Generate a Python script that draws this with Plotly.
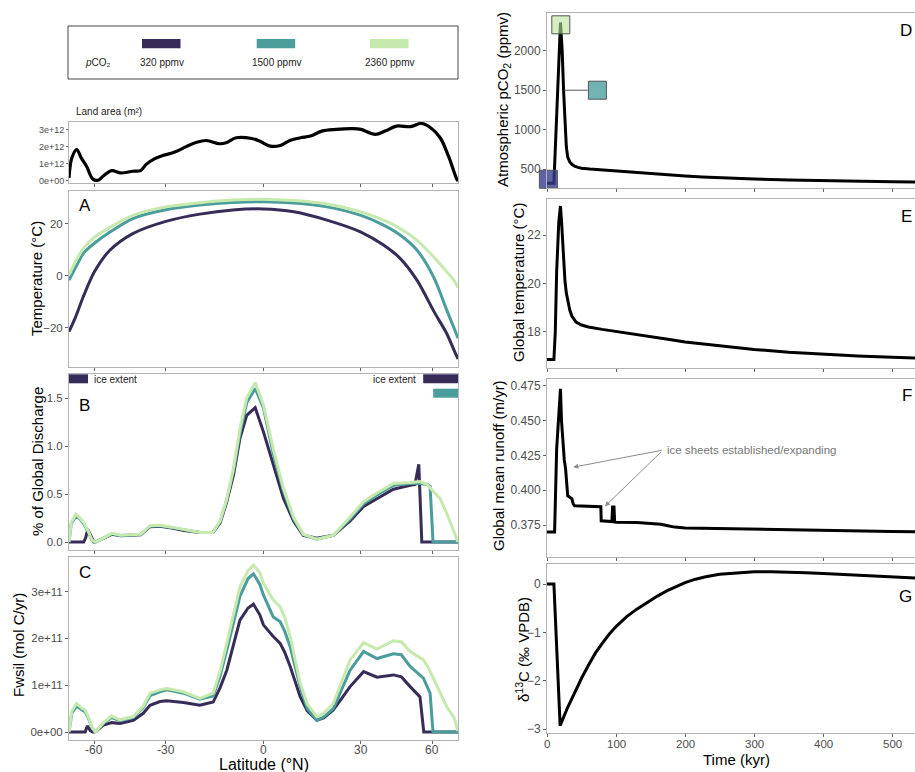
import numpy as np
import plotly.graph_objects as go

W, H = 915, 772

# ---------------- data ----------------
legend_labels = ["320 ppmv", "1500 ppmv", "2360 ppmv"]
series_colors = ["#372c57", "#4b9d9c", "#c6e9ae"]

land_lat = [-85, -79, -73, -69, -65, -61, -58, -55, -51, -47, -42, -39, -37, -34, -31, -27, -23, -20, -17,
            -13, -11, -8, -3.4, -1, 2, 5, 8, 11, 14, 17.4, 22, 27, 30, 35, 38.6, 43, 49, 54, 59, 65, 71.6, 83, 86]
land_area_e12 = [0.16, 1.33, 1.82, 1.33, 0.84, 0.1, 0.02, 0.29, 0.59, 0.45, 0.55, 0.59, 0.94, 1.27, 1.47, 1.67,
                 2.02, 2.25, 2.35, 2.16, 2.22, 2.51, 2.47, 2.31, 2.02, 2.06, 2.37, 2.51, 2.61, 2.9, 3.0, 3.04, 3.0,
                 2.71, 2.9, 3.19, 3.16, 3.35, 3.1, 2.51, 1.43, 0.06, 0.0]

temp_lat = [-85, -75, -67, -60, -52, -42, -30, -19, -9, 0, 9, 19, 30, 38, 44.5, 52, 61, 70, 78, 86]
temp_320 = [-21.5, -16.5, -7.6, 1.5, 9.7, 16.2, 20.9, 23.7, 25.3, 25.7, 24.6, 21.4, 16.8, 11.8, 6.7, -1.8,
            -13.8, -22.2, -28.8, -32.0]
temp_1500 = [-1.7, 2.7, 8.8, 12.5, 16.7, 22.0, 25.4, 27.2, 28.2, 28.5, 28.0, 26.5, 23.2, 19.5, 15.7, 9.8,
             -0.8, -13.2, -20.3, -24.0]
temp_2360 = [0.3, 5.0, 10.7, 14.8, 18.5, 23.2, 26.5, 28.1, 29.1, 29.4, 28.9, 27.6, 24.5, 21.4, 18.2, 13.6,
             7.1, 1.5, -1.9, -4.5]

dis_lat_2360 = [-85, -80, -74, -70, -67, -64, -61.5, -59.5, -56, -51, -47, -43, -39, -35.5, -32, -28, -24, -19,
                -15, -12.8, -10.8, -8.8, -6.9, -4.9, -2.4, 0, 2.9, 5.9, 8.9, 11.8, 15.9, 21, 26.4, 30.9, 35.6,
                41.8, 48.8, 53.4, 57, 60.7, 65, 70, 76, 80, 86]
dis_2360 = [0.0, 0.2, 0.29, 0.25, 0.2, 0.12, 0.02, 0.0, 0.03, 0.09, 0.07, 0.075, 0.08, 0.17, 0.175, 0.155, 0.13,
            0.10, 0.10, 0.22, 0.45, 0.77, 1.18, 1.5, 1.66, 1.43, 0.97, 0.56, 0.26, 0.08, 0.03, 0.07, 0.26, 0.42,
            0.51, 0.61, 0.62, 0.63, 0.6, 0.53, 0.45, 0.3, 0.15, 0.08, 0.0]
dis_lat_1500 = [-85, -80, -74, -70, -67, -64, -61.5, -59.5, -56, -51, -47, -43, -39, -35.5, -32, -28, -24, -19,
                -15, -12.8, -10.8, -8.8, -6.9, -4.9, -2.4, 0, 2.9, 5.9, 8.9, 11.8, 15.9, 21, 26.4, 30.9, 35.6,
                41.8, 48.8, 53.4, 57, 58.7, 60.4, 86]
dis_1500 = [0.0, 0.19, 0.27, 0.24, 0.19, 0.11, 0.02, 0.0, 0.03, 0.085, 0.068, 0.072, 0.078, 0.165, 0.17, 0.15,
            0.125, 0.10, 0.10, 0.21, 0.44, 0.74, 1.13, 1.45, 1.60, 1.40, 0.92, 0.53, 0.24, 0.075, 0.03, 0.07,
            0.24, 0.40, 0.49, 0.59, 0.61, 0.61, 0.60, 0.58, 0.0, 0.0]
dis_lat_320 = [-85, -67, -65.5, -64.2, -62, -60.4, -59.5, -56, -51, -47, -43, -39, -35.5, -32, -28, -24, -19,
               -15, -12.8, -10.8, -8.8, -6.9, -4.9, -2.4, 0, 2.9, 5.9, 8.9, 11.8, 15.9, 21, 26.4, 30.9, 35.6,
               41.8, 48.8, 51, 52.8, 54.3, 86]
dis_320 = [0.0, 0.0, 0.05, 0.13, 0.06, 0.0, 0.0, 0.03, 0.08, 0.065, 0.07, 0.075, 0.16, 0.165, 0.145, 0.12, 0.10,
           0.10, 0.2, 0.42, 0.70, 1.08, 1.32, 1.40, 1.15, 0.80, 0.455, 0.22, 0.07, 0.04, 0.07, 0.22, 0.37, 0.45,
           0.55, 0.59, 0.60, 0.81, 0.0, 0.0]

ice_south_320 = [-85, -64]
ice_north_320 = [55, 86]
ice_north_1500 = [60.5, 86]
ice_level_320 = 1.70
ice_level_1500 = 1.55

fw_lat_2360 = [-85, -79, -73.2, -69, -66, -63.5, -61.6, -59.5, -55, -51, -47.3, -44, -41.8, -38, -35.5, -32,
               -29.7, -24.2, -19, -14.9, -12.8, -10.8, -6.9, -4.5, -2.9, -1, 0, 2.9, 4.9, 6.3, 7.9, 10.9, 13,
               15.9, 18, 21, 26.4, 30.9, 35.6, 41.8, 45, 48.8, 55.1, 58, 62.8, 70, 78, 86]
fw_2360_e11 = [0, 0.45, 0.61, 0.52, 0.47, 0.3, 0.11, 0, 0.2, 0.34, 0.26, 0.3, 0.33, 0.55, 0.83, 0.9, 0.93, 0.86,
               0.72, 0.83, 1.3, 1.9, 3.1, 3.45, 3.57, 3.4, 3.18, 2.82, 2.68, 2.45, 2.04, 1.04, 0.6, 0.33, 0.4,
               0.61, 1.54, 1.91, 1.77, 1.95, 1.93, 1.72, 1.54, 1.35, 0.97, 0.54, 0.3, 0.02]
fw_lat_1500 = [-85, -79, -73.2, -69, -66, -63.5, -61.6, -59.5, -55, -51, -47.3, -44, -41.8, -38, -35.5, -32,
               -29.7, -24.2, -19, -14.9, -12.8, -10.8, -6.9, -4.5, -2.9, -1, 0, 2.9, 4.9, 6.3, 7.9, 10.9, 13,
               15.9, 18, 21, 26.4, 30.9, 35.6, 41.8, 45, 48.8, 55.1, 58.7, 60.4, 86]
fw_1500_e11 = [0, 0.4, 0.55, 0.48, 0.43, 0.28, 0.1, 0, 0.19, 0.31, 0.24, 0.28, 0.31, 0.52, 0.78, 0.86, 0.9,
               0.83, 0.70, 0.77, 1.2, 1.75, 2.9, 3.28, 3.38, 3.15, 2.93, 2.46, 2.36, 2.15, 1.82, 0.96, 0.5, 0.25,
               0.32, 0.5, 1.32, 1.72, 1.57, 1.67, 1.65, 1.40, 1.15, 0.83, 0.0, 0.0]
fw_lat_320 = [-85, -66, -64.5, -62.5, -61, -59.5, -55, -51, -47.3, -44, -41.8, -38, -35.5, -32, -29.7, -24.2,
              -19, -14.9, -12.8, -10.8, -6.9, -4.5, -2.9, -1, 0, 2.9, 4.9, 6.3, 7.9, 10.9, 13, 15.9, 18, 21,
              26.4, 30.9, 35.6, 41.8, 45, 48.8, 52.7, 53.4, 55.3, 86]
fw_320_e11 = [0, 0, 0.13, 0.03, 0, 0, 0.15, 0.2, 0.18, 0.22, 0.25, 0.4, 0.57, 0.65, 0.67, 0.63, 0.57, 0.64, 0.95,
              1.32, 2.39, 2.65, 2.73, 2.5, 2.29, 2.04, 1.9, 1.7, 1.4, 0.75, 0.45, 0.25, 0.3, 0.47, 0.97, 1.29,
              1.17, 1.22, 1.18, 0.97, 0.79, 0.75, 0.0, 0.0]

lat_ticks = [-60, -30, 0, 30, 60]

time_pco2 = [0, 10, 19.5, 22, 24, 26, 28, 30, 33, 36, 40, 45, 50, 62, 80, 100, 125, 150, 175, 200, 225, 250,
             275, 300, 350, 375, 400, 450, 500, 533]
pco2 = [320, 320, 2360, 2000, 1500, 1050, 780, 650, 590, 560, 535, 520, 510, 500, 488, 475, 456, 440, 425, 412,
        400, 390, 381, 373, 361, 356, 352, 345, 339, 336]

time_gtemp = [0, 10, 12, 14, 17, 19.5, 21, 24, 26, 28, 30, 33, 36, 42, 50, 60, 80, 100, 125, 150, 175, 200, 225,
              250, 275, 300, 350, 400, 450, 500, 533]
gtemp = [16.85, 16.85, 18.0, 20.5, 22.5, 23.2, 22.6, 20.9, 20.1, 19.6, 19.25, 18.9, 18.65, 18.4, 18.28, 18.2,
         18.1, 18.02, 17.91, 17.8, 17.69, 17.58, 17.5, 17.42, 17.34, 17.27, 17.15, 17.06, 17.0, 16.95, 16.92]

time_runoff = [0, 11, 14, 17, 19.5, 21, 23, 25, 27, 29, 30, 36, 38, 40, 60, 78, 78.5, 82, 94, 95, 97, 98, 100,
               130, 150, 165, 175, 185, 200, 250, 300, 400, 500, 533]
runoff = [0.370, 0.370, 0.430, 0.450, 0.473, 0.450, 0.435, 0.422, 0.415, 0.400, 0.396, 0.394, 0.390, 0.3888,
          0.3885, 0.3882, 0.378, 0.3778, 0.3775, 0.388, 0.388, 0.3772, 0.3770, 0.3768, 0.3762, 0.3755, 0.3745,
          0.3735, 0.3729, 0.3724, 0.3719, 0.3711, 0.3704, 0.3702]

time_d13c = [0, 10, 19, 22, 25, 30, 35, 40, 45, 50, 60, 70, 80, 90, 100, 115, 130, 145, 160, 175, 190, 200, 215,
             230, 250, 275, 300, 325, 350, 375, 400, 450, 500, 533]
d13c = [0, 0, -2.93, -2.82, -2.71, -2.55, -2.40, -2.24, -2.09, -1.95, -1.68, -1.43, -1.23, -1.04, -0.88, -0.68,
        -0.52, -0.38, -0.25, -0.13, -0.03, 0.03, 0.10, 0.15, 0.20, 0.235, 0.255, 0.255, 0.25, 0.235, 0.22, 0.185,
        0.15, 0.125]

marker_time = [2, 20, 73]
marker_pco2 = [370, 2330, 1500]
marker_fill = ["rgba(55,60,140,0.8)", "rgba(185,228,150,0.6)", "rgba(75,160,160,0.8)"]
connector_time = [25, 59]
connector_pco2 = [1500, 1500]

arrow_time = [38, 84]
arrow_runoff = [0.4166, 0.3885]
arrow_tail = (168, 0.4289)

time_ticks = [0, 100, 200, 300, 400, 500]

# ---------------- helpers ----------------
def xp(px):
    return px / W


def yp(py):
    return 1 - py / H


def s(lat):
    return np.sin(np.radians(np.asarray(lat, dtype=float)))


FONT = "Liberation Sans, Arial, sans-serif"
FRAME = "#b3b3b3"
TICKC = "#666666"
TXT = "#4d4d4d"

fig = go.Figure()

left_dom_x = [xp(69), xp(458)]
right_dom_x = [xp(547), 1.0]
panels = {
    1: dict(dx=left_dom_x, dy=(121.7, 182.7)),
    2: dict(dx=left_dom_x, dy=(191, 367)),
    3: dict(dx=left_dom_x, dy=(374, 550)),
    4: dict(dx=left_dom_x, dy=(557, 740)),
    5: dict(dx=right_dom_x, dy=(13.3, 188)),
    6: dict(dx=right_dom_x, dy=(199, 368.3)),
    7: dict(dx=right_dom_x, dy=(379.3, 557)),
    8: dict(dx=right_dom_x, dy=(564.3, 732.7)),
}

lat_range = [float(s(-85)), float(s(86))]
layout_axes = {}
for i, p in panels.items():
    xn = "xaxis" if i == 1 else f"xaxis{i}"
    yn = "yaxis" if i == 1 else f"yaxis{i}"
    left = i <= 4
    xa = dict(domain=p["dx"], anchor=f"y{i}" if i > 1 else "y", showgrid=False, zeroline=False,
              showline=True, linecolor=FRAME, linewidth=1, mirror=True, ticks="outside", ticklen=3,
              tickcolor=TICKC, tickwidth=1, automargin=False, showticklabels=False)
    if left:
        xa.update(range=lat_range, tickvals=list(s(lat_ticks)))
    else:
        xa.update(range=[0, 533], tickvals=time_ticks)
    ya = dict(domain=[yp(p["dy"][1]), yp(p["dy"][0])], anchor=f"x{i}" if i > 1 else "x", showgrid=False,
              zeroline=False, showline=True, linecolor=FRAME, linewidth=1, mirror=left, ticks="outside",
              ticklen=3, tickcolor=TICKC, tickwidth=1, automargin=False,
              tickfont=dict(family=FONT, size=11.5, color=TXT))
    layout_axes[xn] = xa
    layout_axes[yn] = ya

layout_axes["yaxis"].update(range=[-0.12e12, 3.45e12], tickvals=[0, 1e12, 2e12, 3e12],
                            ticktext=["0e+00", "1e+12", "2e+12", "3e+12"],
                            tickfont=dict(family=FONT, size=9, color=TXT), ticklen=2)
layout_axes["yaxis2"].update(range=[-35.1, 32.6], tickvals=[-20, 0, 20])
layout_axes["yaxis3"].update(range=[-0.083, 1.75], tickvals=[0, 0.5, 1.0, 1.5],
                             ticktext=["0.0", "0.5", "1.0", "1.5"])
layout_axes["yaxis4"].update(range=[-0.171e11, 3.74e11], tickvals=[0, 1e11, 2e11, 3e11],
                             ticktext=["0e+00", "1e+11", "2e+11", "3e+11"])
layout_axes["yaxis5"].update(range=[259, 2476], tickvals=[500, 1000, 1500, 2000],
                             tickfont=dict(family=FONT, size=12, color=TXT))
layout_axes["yaxis6"].update(range=[16.49, 23.49], tickvals=[18, 20, 22],
                             tickfont=dict(family=FONT, size=12, color=TXT))
layout_axes["yaxis7"].update(range=[0.352, 0.4798], tickvals=[0.375, 0.4, 0.425, 0.45, 0.475],
                             ticktext=["0.375", "0.400", "0.425", "0.450", "0.475"],
                             tickfont=dict(family=FONT, size=12, color=TXT))
layout_axes["yaxis8"].update(range=[-3.076, 0.408], tickvals=[-3, -2, -1, 0],
                             tickfont=dict(family=FONT, size=12, color=TXT))


def add(x, y, i, color, width=3, **kw):
    fig.add_trace(go.Scatter(x=x, y=y, mode="lines", xaxis="x" if i == 1 else f"x{i}",
                             yaxis="y" if i == 1 else f"y{i}", line=dict(color=color, width=width),
                             showlegend=False, hoverinfo="skip", **kw))


add(s(land_lat), np.array(land_area_e12) * 1e12, 1, "black", 3.2, line_shape="spline")
for vals, c in zip([temp_320, temp_1500, temp_2360], series_colors):
    fig.add_trace(go.Scatter(x=s(temp_lat), y=vals, mode="lines", xaxis="x2", yaxis="y2",
                             line=dict(color=c, width=3, shape="spline", smoothing=0.8),
                             showlegend=False, hoverinfo="skip"))
for la, vals, c in zip([dis_lat_320, dis_lat_1500, dis_lat_2360], [dis_320, dis_1500, dis_2360], series_colors):
    add(s(la), vals, 3, c, 3)
add(s(ice_south_320), [ice_level_320] * 2, 3, series_colors[0], 9)
add(s(ice_north_320), [ice_level_320] * 2, 3, series_colors[0], 9)
add(s(ice_north_1500), [ice_level_1500] * 2, 3, series_colors[1], 9)
for la, vals, c in zip([fw_lat_320, fw_lat_1500, fw_lat_2360], [fw_320_e11, fw_1500_e11, fw_2360_e11],
                       series_colors):
    add(s(la), np.array(vals) * 1e11, 4, c, 3)

add(time_pco2, pco2, 5, "black", 3)
add(connector_time, connector_pco2, 5, "#555555", 1)
fig.add_trace(go.Scatter(x=marker_time, y=marker_pco2, mode="markers", xaxis="x5", yaxis="y5",
                         marker=dict(symbol="square", size=18, color=marker_fill,
                                     line=dict(color="#555555", width=1)),
                         showlegend=False, hoverinfo="skip", cliponaxis=False))
add(time_gtemp, gtemp, 6, "black", 3)
add(time_runoff, runoff, 7, "black", 3)
add(time_d13c, d13c, 8, "black", 3)

ann = []
shapes = []


def text(x, y, t, size=15, color="black", xanchor="center", yanchor="middle", angle=0, family=FONT):
    ann.append(dict(x=xp(x), y=yp(y), xref="paper", yref="paper", text=t, showarrow=False,
                    font=dict(family=family, size=size, color=color), xanchor=xanchor, yanchor=yanchor,
                    textangle=angle))


# x tick labels (placed from the tick lists)
for v in lat_ticks:
    ann.append(dict(x=float(s(v)), y=yp(750), xref="x4", yref="paper", text=str(v), showarrow=False,
                    font=dict(family=FONT, size=12, color=TXT), xanchor="center", yanchor="middle"))
for v in time_ticks:
    ann.append(dict(x=v, y=yp(743.5), xref="x8", yref="paper", text=str(v), showarrow=False,
                    font=dict(family=FONT, size=11.5, color=TXT), xanchor="center", yanchor="middle"))

# legend box
shapes.append(dict(type="rect", xref="paper", yref="paper", x0=xp(68), x1=xp(458), y0=yp(79), y1=yp(26),
                   line=dict(color="#444444", width=1)))
sw_x = [142, 256.7, 370]
for xx, c, lab in zip(sw_x, series_colors, legend_labels):
    shapes.append(dict(type="rect", xref="paper", yref="paper", x0=xp(xx), x1=xp(xx + 38.5), y0=yp(48.3),
                       y1=yp(39), line=dict(width=0), fillcolor=c))
    text(xx + 19.5, 63, lab, size=10, color="#222222")
text(83, 63, "<i>p</i>CO₂", size=10, color="#222222", xanchor="left")

# axis titles
text(74, 112, "Land area (m²)", size=10, color="#222222", xanchor="left")
text(37, 279, "Temperature (°C)", angle=-90)
text(37, 462, "% of Global Discharge", angle=-90)
text(18, 645, "Fwsil (mol C/yr)", angle=-90)
text(263.5, 764, "Latitude (°N)", size=16)
text(503, 100, "Atmospheric pCO<sub>2</sub> (ppmv)", angle=-90)
text(518, 283, "Global temperature (°C)", angle=-90)
text(498, 466, "Global mean runoff (m/yr)", angle=-90)
text(522, 650, "δ<sup>13</sup>C (‰ VPDB)", angle=-90)
text(736.7, 759, "Time (kyr)", size=15)

for lx, ly, L in [(77, 205, "A"), (77, 405, "B"), (77, 572, "C")]:
    text(lx, ly, L, size=17, xanchor="left")
for ly, L in [(30, "D"), (216.7, "E"), (395, "F"), (596.7, "G")]:
    text(914, ly, L, size=17, xanchor="right")

text(92, 379, "ice extent", size=10, color="#222222", xanchor="left")
text(418, 379, "ice extent", size=10, color="#222222", xanchor="right")

for at, ar in zip(arrow_time, arrow_runoff):
    ann.append(dict(x=at, y=ar, xref="x7", yref="y7", ax=arrow_tail[0], ay=arrow_tail[1], axref="x7",
                    ayref="y7", text="", showarrow=True, arrowhead=2, arrowsize=1, arrowwidth=1,
                    arrowcolor="#8c8c8c", standoff=0, startstandoff=0))
text(665, 450, "ice sheets established/expanding", size=11.5, color="#777777", xanchor="left")

fig.update_layout(width=W, height=H, margin=dict(l=0, r=0, t=0, b=0), plot_bgcolor="white",
                  paper_bgcolor="white", annotations=ann, shapes=shapes, **layout_axes)

fig.write_html("out.html")
